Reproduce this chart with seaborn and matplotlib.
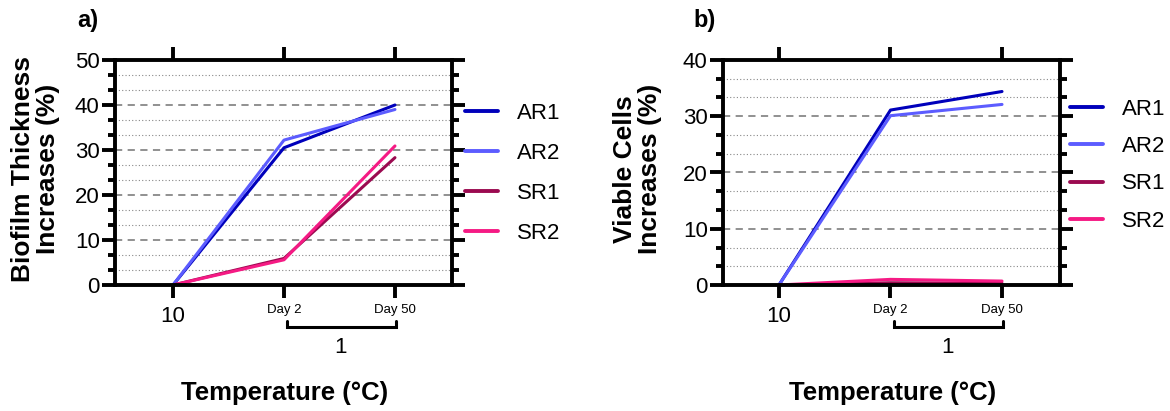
import numpy as np
import pandas as pd
import matplotlib
matplotlib.use("Agg")
import matplotlib.pyplot as plt
import matplotlib.transforms as mtransforms
from matplotlib.ticker import MultipleLocator
import seaborn as sns

# ---- data ----
timepoints = ["10", "Day 2", "Day 50"]
series_names = ["AR1", "AR2", "SR1", "SR2"]
thickness_AR1 = [0, 30.5, 40.0]
thickness_AR2 = [0, 32.2, 39.0]
thickness_SR1 = [0, 5.9, 28.3]
thickness_SR2 = [0, 5.6, 30.9]
viable_AR1 = [0, 31.1, 34.4]
viable_AR2 = [0, 30.1, 32.1]
viable_SR1 = [0, 0.4, 0.3]
viable_SR2 = [0, 1.0, 0.7]
colors = {"AR1": "#0000BB", "AR2": "#5C5CFF", "SR1": "#9B0A50", "SR2": "#F51A84"}

sns.set_style("white")
plt.rcParams['font.family'] = ['Liberation Sans', 'DejaVu Sans']
plt.rcParams['text.color'] = 'black'
plt.rcParams['axes.labelcolor'] = 'black'
plt.rcParams['xtick.color'] = 'black'
plt.rcParams['ytick.color'] = 'black'
plt.rcParams['legend.labelcolor'] = 'black'


def long_df(vals):
    rows = []
    for name, v in zip(series_names, vals):
        for i, (t, y) in enumerate(zip(timepoints, v)):
            rows.append({"pos": i, "time": t, "series": name, "value": y})
    return pd.DataFrame(rows)


df_a = long_df([thickness_AR1, thickness_AR2, thickness_SR1, thickness_SR2])
df_b = long_df([viable_AR1, viable_AR2, viable_SR1, viable_SR2])

fig = plt.figure(figsize=(11.7, 4.11), dpi=100)
ax_a = fig.add_axes([115 / 1170, 1 - 285 / 411, 337 / 1170, 225 / 411])
ax_b = fig.add_axes([723 / 1170, 1 - 285 / 411, 337 / 1170, 225 / 411])

SPW = 2.8


def style_axes(ax, df, ymax, xlim, ylab, panel, leg_anchor, leg_spacing):
    sns.lineplot(data=df, x="pos", y="value", hue="series", palette=colors,
                 hue_order=series_names, linewidth=2.2, ax=ax, legend=True,
                 estimator=None, sort=False)
    ax.set_xlim(*xlim)
    ax.set_ylim(0, ymax)
    # grid lines
    for v in np.arange(10, ymax, 10):
        ax.axhline(v, color="#888888", lw=1.3, ls=(0, (4, 3)), zorder=0)
    for v in np.arange(10 / 3, ymax, 10 / 3):
        if abs(v / 10 - round(v / 10)) > 0.01:
            ax.axhline(v, color="#888888", lw=0.8, ls=(0, (1, 2)), zorder=0)
    for s in ax.spines.values():
        s.set_linewidth(SPW)
        s.set_color("black")
        s.set_visible(True)
    ax.yaxis.set_major_locator(MultipleLocator(10))
    ax.yaxis.set_minor_locator(MultipleLocator(10 / 3))
    ax.tick_params(axis="y", which="major", direction="out", length=9.5, width=SPW,
                   left=True, right=True, labelleft=True, labelright=False,
                   labelsize=16, pad=1.5, color="black", labelcolor="black")
    ax.tick_params(axis="y", which="minor", direction="out", length=5, width=SPW,
                   left=True, right=True)
    ax.set_xticks([0, 1, 2])
    ax.set_xticklabels(["", "Day 2", "Day 50"])
    ax.tick_params(axis="x", which="major", direction="out", length=9.5, width=SPW,
                   top=True, bottom=True, labelsize=9.5, pad=4, color="black",
                   labelcolor="black")
    ax.set_xlabel("")
    ax.set_ylabel("")
    trans = mtransforms.blended_transform_factory(ax.transData, ax.transAxes)
    ax.text(0, -0.142, timepoints[0], transform=trans, ha="center", va="center",
            fontsize=16)
    ax.plot([1.03, 1.03, 2.01, 2.01], [-0.16, -0.187, -0.187, -0.16],
            transform=trans, color="black", lw=2.2, clip_on=False,
            solid_joinstyle="miter")
    ax.text(1.51, -0.276, "1", transform=trans, ha="center", va="center",
            fontsize=16)
    ax.text(0.504, -0.48, "Temperature (°C)", transform=ax.transAxes,
            ha="center", va="center", fontsize=18.5, fontweight="bold")
    ax.text(ylab[1], 0.515, ylab[0], transform=ax.transAxes, rotation=90,
            ha="center", va="center", fontsize=19, fontweight="bold",
            multialignment="center", linespacing=1.05)
    handles, labels = ax.get_legend_handles_labels()
    for h in handles:
        h.set_linewidth(2.8)
    ax.legend(handles, labels, loc="upper left", bbox_to_anchor=leg_anchor,
              frameon=False, fontsize=16, handlelength=1.5, handletextpad=0.85,
              labelspacing=leg_spacing, borderpad=0, borderaxespad=0)
    fig.text(panel[1], 0.949, panel[0], ha="left", va="center", fontsize=17,
             fontweight="bold")


style_axes(ax_a, df_a, 50, (-0.523, 2.514),
           ("Biofilm Thickness\nIncreases (%)", -0.235), ("a)", 77 / 1170),
           (1.039, 0.809), 0.85)
style_axes(ax_b, df_b, 40, (-0.502, 2.52),
           ("Viable Cells\nIncreases (%)", -0.255), ("b)", 693 / 1170),
           (1.03, 0.827), 0.73)

fig.savefig("out.png", dpi=100)
